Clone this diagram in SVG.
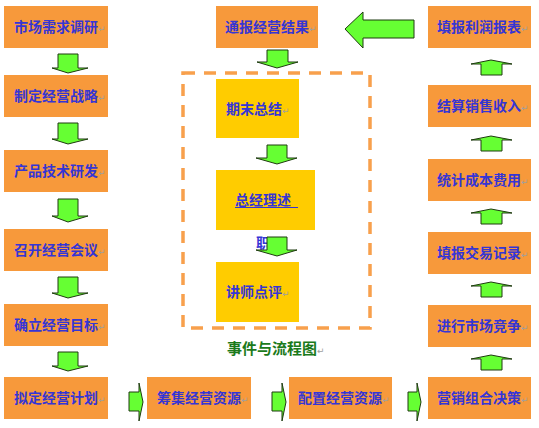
<svg xmlns="http://www.w3.org/2000/svg" width="539" height="428" viewBox="0 0 539 428">
<style>
.box{fill:#F7993B}
.ybox{fill:#FFCC00}
.t{font-family:"Noto Sans CJK SC","Noto Sans",sans-serif;font-size:14px;font-weight:bold;fill:#3535D5}
.pm{font-family:"DejaVu Sans",sans-serif;font-size:9px;font-weight:normal;fill:#A0A0A0}
.arr{fill:#66FF33;stroke:#1F3A10;stroke-width:1;stroke-linejoin:miter}
.cap{font-family:"Noto Sans CJK SC","Noto Sans",sans-serif;font-size:15px;font-weight:bold;fill:#1B7A1B}
</style>
<rect width="539" height="428" fill="#FFFFFF"/>
<rect x="183" y="73" width="187" height="255" fill="none" stroke="#F8A04C" stroke-width="3.5" stroke-dasharray="12,9"/>
<g id="connectors">
<polygon class="arr" points="58,54 78,54 78,68 88,68 68,73 52,68 58,68"/>
<polygon class="arr" points="58,123 78,123 78,139 88,139 68,144 52,139 58,139"/>
<polygon class="arr" points="58,199 78,199 78,216 88,216 68,222 52,216 58,216"/>
<polygon class="arr" points="58,277 78,277 78,293 88,293 68,298 52,293 58,293"/>
<polygon class="arr" points="58,352 78,352 78,366 88,366 68,371 52,366 58,366"/>
<polygon class="arr" points="129,392 139,392 139,383 143,402 139,421 139,411 129,411"/>
<polygon class="arr" points="272,392 282,392 282,383 286,402 282,421 282,411 272,411"/>
<polygon class="arr" points="408,392 417,392 417,383 421,402 417,421 417,411 408,411"/>
<polygon class="arr" points="481,370 502,370 502,359 512,359 491,355 471,359 481,359"/>
<polygon class="arr" points="481,297 502,297 502,286 512,286 491,282 471,286 481,286"/>
<polygon class="arr" points="481,224 502,224 502,213 512,213 491,209 471,213 481,213"/>
<polygon class="arr" points="481,151 502,151 502,140 512,140 491,136 471,140 481,140"/>
<polygon class="arr" points="481,75 502,75 502,64 512,64 491,60 471,64 481,64"/>
<polygon class="arr" points="414,20 414,38 363,38 363,48 345,29 363,12 363,20"/>
<polygon class="arr" points="267,50 288,50 288,62 298,62 277,68 257,62 267,62"/>
</g>
<g id="n1"><rect class="box" x="4" y="6" width="104" height="42"/><text class="t" x="14" y="32">市场需求调研<tspan class="pm">↵</tspan></text></g>
<g id="n2"><rect class="box" x="4" y="75" width="104" height="42"/><text class="t" x="14" y="101">制定经营战略<tspan class="pm">↵</tspan></text></g>
<g id="n3"><rect class="box" x="4" y="150" width="104" height="42"/><text class="t" x="14" y="176">产品技术研发<tspan class="pm">↵</tspan></text></g>
<g id="n4"><rect class="box" x="4" y="229" width="104" height="42"/><text class="t" x="14" y="255">召开经营会议<tspan class="pm">↵</tspan></text></g>
<g id="n5"><rect class="box" x="4" y="304" width="104" height="42"/><text class="t" x="14" y="330">确立经营目标<tspan class="pm">↵</tspan></text></g>
<g id="n6"><rect class="box" x="4" y="377" width="104" height="42"/><text class="t" x="14" y="403">拟定经营计划<tspan class="pm">↵</tspan></text></g>
<g id="n7"><rect class="box" x="147" y="377" width="104" height="42"/><text class="t" x="157" y="403">筹集经营资源<tspan class="pm">↵</tspan></text></g>
<g id="n8"><rect class="box" x="289" y="377" width="103" height="42"/><text class="t" x="298" y="403">配置经营资源<tspan class="pm">↵</tspan></text></g>
<g id="n9"><rect class="box" x="428" y="377" width="103" height="42"/><text class="t" x="437" y="403">营销组合决策<tspan class="pm">↵</tspan></text></g>
<g id="n10"><rect class="box" x="428" y="305" width="103" height="42"/><text class="t" x="437" y="331">进行市场竞争<tspan class="pm">↵</tspan></text></g>
<g id="n11"><rect class="box" x="428" y="232" width="103" height="42"/><text class="t" x="437" y="258">填报交易记录<tspan class="pm">↵</tspan></text></g>
<g id="n12"><rect class="box" x="428" y="159" width="103" height="42"/><text class="t" x="437" y="185">统计成本费用<tspan class="pm">↵</tspan></text></g>
<g id="n13"><rect class="box" x="428" y="85" width="103" height="42"/><text class="t" x="437" y="111">结算销售收入<tspan class="pm">↵</tspan></text></g>
<g id="n14"><rect class="box" x="428" y="6" width="103" height="42"/><text class="t" x="437" y="32">填报利润报表<tspan class="pm">↵</tspan></text></g>
<g id="n15"><rect class="box" x="216" y="6" width="102" height="42"/><text class="t" x="225" y="32">通报经营结果<tspan class="pm">↵</tspan></text></g>
<g id="n16"><rect class="ybox" x="216" y="79" width="83" height="59"/><text class="t" x="226" y="114">期末总结<tspan class="pm">↵</tspan></text></g>
<g id="n17"><rect class="ybox" x="216" y="170" width="99" height="60"/><text class="t" x="235" y="205">总经理述</text><line x1="235" y1="207.5" x2="298" y2="207.5" stroke="#3535D5" stroke-width="1"/></g>
<g id="n17b"><text class="t" x="256" y="248">职</text></g>
<polygon class="arr" points="267,237 287,237 287,250 297,250 277,256 256,250 267,250"/>
<polygon class="arr" points="267,145 287,145 287,158 297,158 277,164 256,158 267,158"/>
<g id="n18"><rect class="ybox" x="216" y="262" width="83" height="60"/><text class="t" x="226" y="297">讲师点评<tspan class="pm">↵</tspan></text></g>
<g id="caption"><text class="cap" x="227" y="354">事件与流程图<tspan class="pm">↵</tspan></text></g>
</svg>
